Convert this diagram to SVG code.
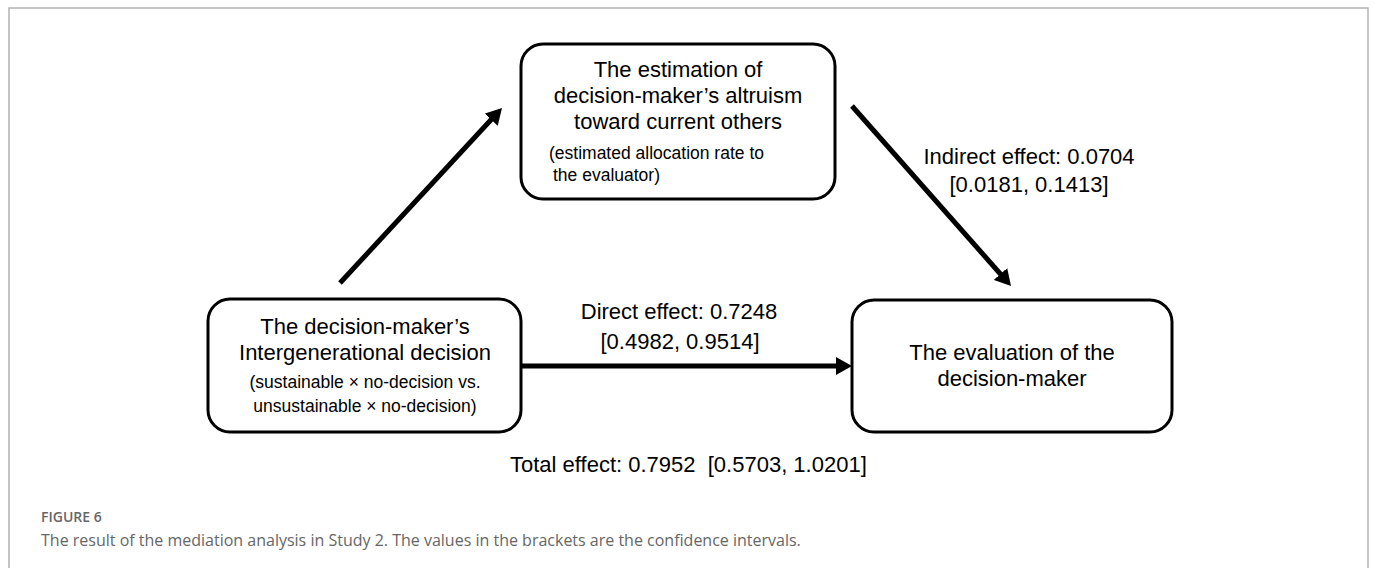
<svg xmlns="http://www.w3.org/2000/svg" width="1375" height="568" viewBox="0 0 1375 568">
<style>
.box{fill:#fff;stroke:#000;stroke-width:3}
.t{font-family:"Liberation Sans",Arial,sans-serif;font-size:22px;fill:#000}
.s{font-family:"Liberation Sans",Arial,sans-serif;font-size:17.5px;fill:#000}
.c{text-anchor:middle}
.arr{stroke:#000;stroke-width:5;fill:none}
.cap1{font-family:"Open Sans","Noto Sans",sans-serif;font-size:14px;font-weight:600;fill:#666}
.cap2{font-family:"Open Sans","Noto Sans",sans-serif;font-size:16px;fill:#666}
</style>
<defs>
<marker id="ah" markerUnits="userSpaceOnUse" markerWidth="16" markerHeight="18" refX="6" refY="9" orient="auto">
<path d="M0,0 L16,9 L0,18 z" fill="#000"/>
</marker>
</defs>
<rect x="0" y="0" width="1375" height="568" fill="#fff"/>
<rect x="9" y="8" width="1359" height="620" fill="none" stroke="#b3b3b3" stroke-width="1.5"/>
<g id="connectors">
<line class="arr" x1="340" y1="283" x2="495.2" y2="115.3" marker-end="url(#ah)"/>
<line class="arr" x1="852" y1="106" x2="1004.4" y2="278.5" marker-end="url(#ah)"/>
<line class="arr" x1="521" y1="366" x2="842" y2="366" marker-end="url(#ah)"/>
</g>
<g id="node-mediator">
<rect class="box" x="521" y="44" width="314" height="155" rx="22"/>
<text class="t c" x="678" y="77">The estimation of</text>
<text class="t c" x="678" y="103">decision-maker’s altruism</text>
<text class="t c" x="678" y="129">toward current others</text>
<text class="s" x="549" y="159">(estimated allocation rate to</text>
<text class="s" x="553" y="181">the evaluator)</text>
</g>
<g id="node-decision">
<rect class="box" x="208" y="299" width="313" height="133" rx="22"/>
<text class="t c" x="365" y="334">The decision-maker’s</text>
<text class="t c" x="365" y="360">Intergenerational decision</text>
<text class="s c" x="365" y="388">(sustainable × no-decision vs.</text>
<text class="s c" x="365" y="412">unsustainable × no-decision)</text>
</g>
<g id="node-evaluation">
<rect class="box" x="852" y="300" width="320" height="132" rx="22"/>
<text class="t c" x="1012" y="360">The evaluation of the</text>
<text class="t c" x="1012" y="386">decision-maker</text>
</g>
<g id="labels">
<text class="t c" x="1029" y="164">Indirect effect: 0.0704</text>
<text class="t c" x="1029" y="192">[0.0181, 0.1413]</text>
<text class="t c" x="679" y="319">Direct effect: 0.7248</text>
<text class="t c" x="680" y="349">[0.4982, 0.9514]</text>
<text class="t" x="510" y="472" xml:space="preserve">Total effect: 0.7952  [0.5703, 1.0201]</text>
</g>
<g id="caption">
<text class="cap1" x="41" y="522">FIGURE 6</text>
<text class="cap2" x="41" y="546">The result of the mediation analysis in Study 2. The values in the brackets are the confidence intervals.</text>
</g>
</svg>
